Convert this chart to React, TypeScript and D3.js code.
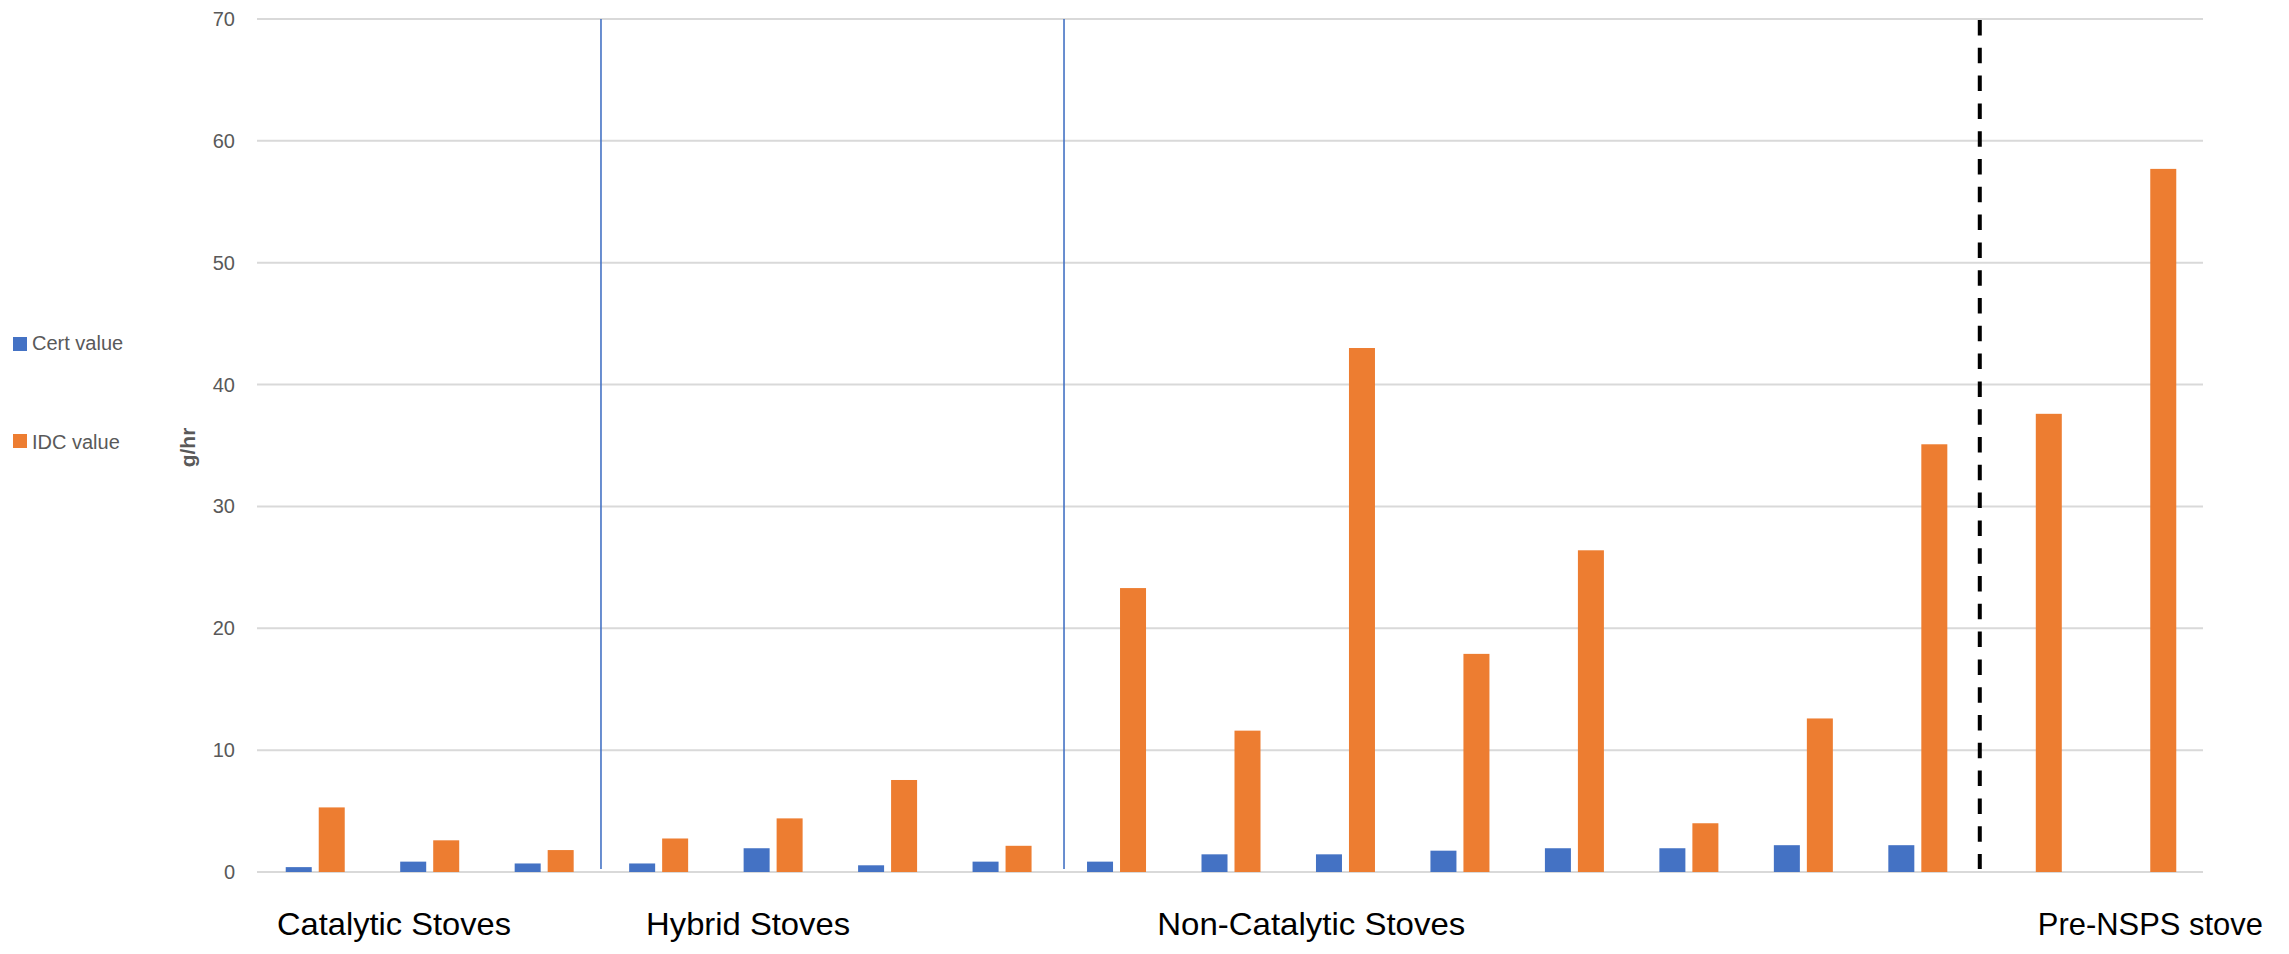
import React from "react";
import * as d3 from "d3";

const stoves: string[] = [
  "C1", "C2", "C3",
  "H1", "H2", "H3", "H4",
  "N1", "N2", "N3", "N4", "N5", "N6", "N7", "N8",
  "P1", "P2",
];
const certValues: (number | null)[] = [
  0.4, 0.85, 0.7,
  0.7, 1.95, 0.55, 0.85,
  0.85, 1.45, 1.45, 1.75, 1.95, 1.95, 2.2, 2.2,
  null, null,
];
const idcValues: number[] = [
  5.3, 2.6, 1.8,
  2.75, 4.4, 7.55, 2.15,
  23.3, 11.6, 43.0, 17.9, 26.4, 4.0, 12.6, 35.1,
  37.6, 57.7,
];
const seriesNames = ["Cert value", "IDC value"];
const seriesColors = ["#4472C4", "#ED7D31"];
const yTicks = [0, 10, 20, 30, 40, 50, 60, 70];
const groupLabels = ["Catalytic Stoves", "Hybrid Stoves", "Non-Catalytic Stoves", "Pre-NSPS stove"];
const groupLabelPos = [1.197, 4.29, 9.21, 16.54]; // in category-index units
const groupLabelWidths = [234, 204, 308, 225];
const separators = [
  { at: 3.005, color: "#4472C4", width: 1.6, dash: "" },
  { at: 7.05, color: "#4472C4", width: 1.6, dash: "" },
  { at: 15.05, color: "#000000", width: 4, dash: "15.5 12.3" },
];

const W = 2289;
const H = 954;
const left = 257;
const right = 2203;
const top = 19;
const bottom = 872;

export default function App() {
  const x = d3.scaleBand<string>().domain(stoves).range([left, right]).padding(0);
  const xi = d3.scaleLinear().domain([0, stoves.length]).range([left, right]);
  const inner = d3.scaleBand<string>().domain(seriesNames).range([-29.5, 29.5]).paddingInner(0.212);
  const y = d3.scaleLinear().domain([0, 70]).range([bottom, top]);
  const series = [certValues, idcValues];
  const font = "'Liberation Sans', Arial, sans-serif";

  return (
    <svg width={W} height={H} style={{ position: "absolute", left: 0, top: 0, display: "block", background: "#fff" }}>
      {/* gridlines */}
      {yTicks.map((t) => (
        <g key={t}>
          <line x1={left} x2={right} y1={y(t)} y2={y(t)} stroke="#d9d9d9" strokeWidth={2} />
          <text x={235} y={y(t)} dy="0.35em" textAnchor="end" fontFamily={font} fontSize={20} fill="#595959">
            {t}
          </text>
        </g>
      ))}
      {/* bars */}
      {series.map((vals, si) =>
        vals.map((v, i) =>
          v == null ? null : (
            <rect
              key={`${si}-${i}`}
              x={(x(stoves[i]) as number) + x.bandwidth() / 2 + (inner(seriesNames[si]) as number) + 1}
              y={y(v)}
              width={inner.bandwidth()}
              height={y(0) - y(v)}
              fill={seriesColors[si]}
            />
          )
        )
      )}
      {/* separators */}
      {separators.map((s, i) => (
        <line
          key={i}
          x1={xi(s.at)}
          x2={xi(s.at)}
          y1={y(70) + (s.dash ? 1 : 0)}
          y2={y(0) - 3}
          stroke={s.color}
          strokeWidth={s.width}
          strokeDasharray={s.dash || undefined}
        />
      ))}
      {/* y-axis title */}
      <text
        transform={`translate(195,447.5) rotate(-90)`}
        textAnchor="middle"
        fontFamily={font}
        fontSize={21}
        fontWeight="bold"
        fill="#595959"
      >
        g/hr
      </text>
      {/* legend */}
      {seriesNames.map((n, i) => (
        <g key={n}>
          <rect x={13} y={337 + i * 97} width={14} height={14} fill={seriesColors[i]} />
          <text x={32} y={350 + i * 99} fontFamily={font} fontSize={20} fill="#595959">
            {n}
          </text>
        </g>
      ))}
      {/* group labels */}
      {groupLabels.map((g, i) => (
        <text
          key={g}
          x={xi(groupLabelPos[i])}
          y={935}
          textAnchor="middle"
          fontFamily={font}
          fontSize={32}
          fill="#000"
          textLength={groupLabelWidths[i]}
          lengthAdjust="spacingAndGlyphs"
        >
          {g}
        </text>
      ))}
    </svg>
  );
}
